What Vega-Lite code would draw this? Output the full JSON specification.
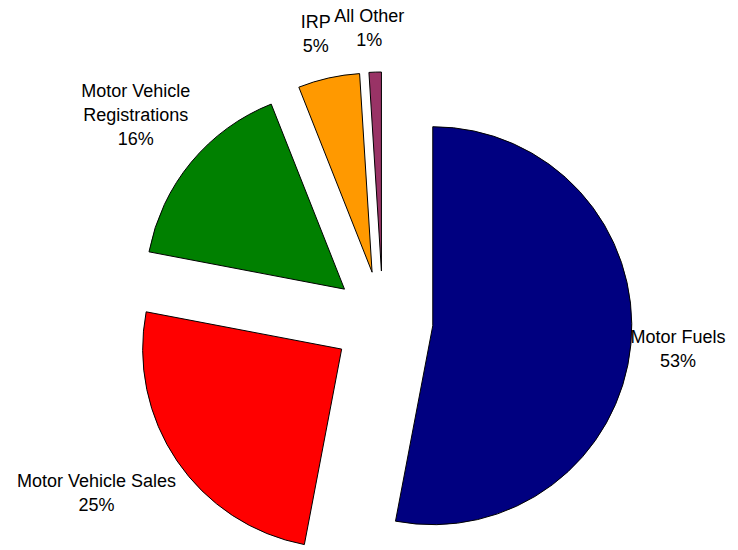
{
  "$schema": "https://vega.github.io/schema/vega-lite/v6.json",
  "width": 738,
  "height": 550,
  "padding": 0,
  "autosize": {"type": "none"},
  "background": "white",
  "view": {"stroke": null},
  "data": {
    "values": [
      {"name": "Motor Fuels", "value": 53},
      {"name": "Motor Vehicle Sales", "value": 25},
      {"name": "Motor Vehicle\nRegistrations", "value": 16},
      {"name": "IRP", "value": 5},
      {"name": "All Other", "value": 1}
    ]
  },
  "transform": [
    {"window": [{"op": "row_number", "as": "idx"}]},
    {"joinaggregate": [{"op": "sum", "field": "value", "as": "total"}]},
    {"window": [{"op": "sum", "field": "value", "as": "cum"}], "sort": [{"field": "idx"}], "frame": [null, 0]},
    {"calculate": "2*PI*(datum.cum-datum.value)/datum.total", "as": "t0"},
    {"calculate": "2*PI*datum.cum/datum.total", "as": "t1"},
    {"calculate": "(datum.t0+datum.t1)/2", "as": "mid"},
    {"calculate": "50*sin(datum.mid)", "as": "ax"},
    {"calculate": "50*cos(datum.mid)", "as": "ay"},
    {"calculate": "split(datum.name,'\\n')", "as": "parts"},
    {"calculate": "max(length(datum.parts[0]), length(datum.parts[1] || ''))", "as": "maxLen"},
    {"calculate": "length(datum.parts)+1", "as": "nl"},
    {"calculate": "250*sin(datum.mid) + 4.2*datum.maxLen*clamp(5*sin(datum.mid),-1,1)", "as": "lx"},
    {"calculate": "274*cos(datum.mid) + (12*datum.nl-5.5)*clamp(2*cos(datum.mid),-1,1) + 12*(datum.nl-1)", "as": "ly"},
    {"calculate": "datum.name + '\\n' + datum.value + '%'", "as": "label"}
  ],
  "layer": [
    {
      "mark": {"type": "arc", "outerRadius": 199, "stroke": "black", "strokeWidth": 1},
      "encoding": {
        "x": {"field": "ax", "type": "quantitative", "scale": {"domain": [-383, 355], "nice": false, "zero": false}, "axis": null},
        "y": {"field": "ay", "type": "quantitative", "scale": {"domain": [-229, 321], "nice": false, "zero": false}, "axis": null},
        "theta": {"field": "t0", "type": "quantitative", "scale": null, "stack": null},
        "theta2": {"field": "t1"},
        "color": {
          "field": "name",
          "type": "nominal",
          "scale": {
            "domain": ["Motor Fuels", "Motor Vehicle Sales", "Motor Vehicle\nRegistrations", "IRP", "All Other"],
            "range": ["#000080", "#FF0000", "#008000", "#FF9900", "#993366"]
          },
          "legend": null
        }
      }
    },
    {
      "mark": {"type": "text", "font": "Liberation Sans", "fontSize": 18, "lineHeight": 24, "lineBreak": "\n", "align": "center", "baseline": "middle", "color": "#000000"},
      "encoding": {
        "x": {"field": "lx", "type": "quantitative", "scale": {"domain": [-383, 355], "nice": false, "zero": false}, "axis": null},
        "y": {"field": "ly", "type": "quantitative", "scale": {"domain": [-229, 321], "nice": false, "zero": false}, "axis": null},
        "text": {"field": "label", "type": "nominal"}
      }
    }
  ]
}
